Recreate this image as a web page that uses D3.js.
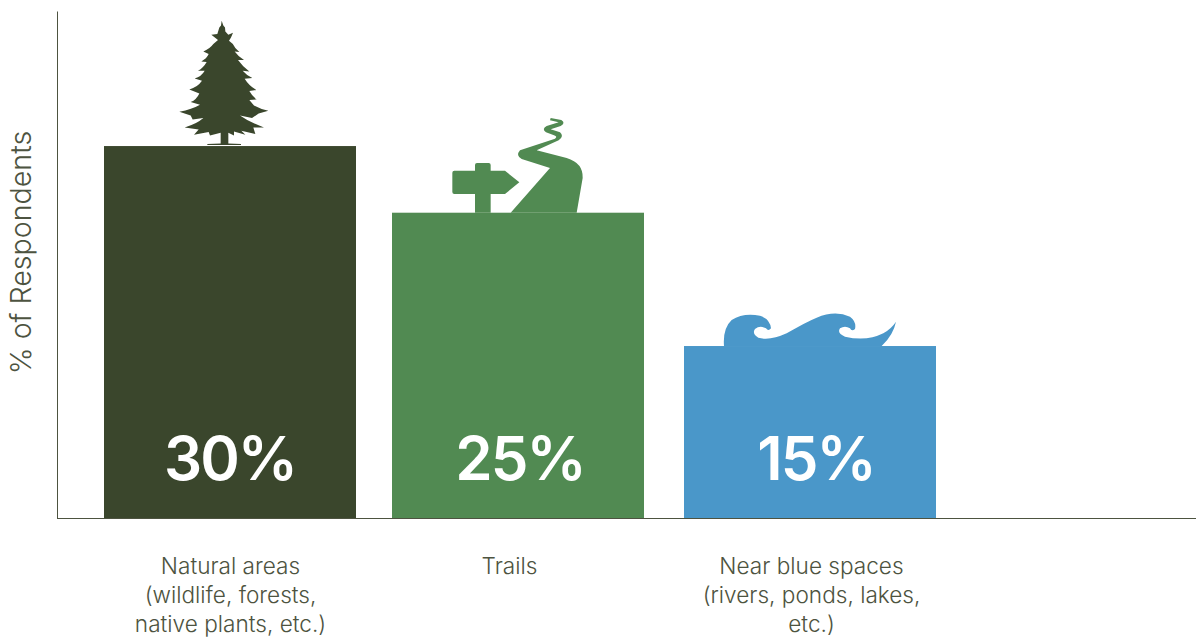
<!DOCTYPE html>
<html>
<head>
<meta charset="utf-8">
<script src="https://cdn.jsdelivr.net/npm/d3@7"></script>
<style>
  html, body { margin: 0; padding: 0; background: #fff; }
  svg { display: block; font-family: Inter, sans-serif; }
</style>
</head>
<body>
<svg id="chart" width="1196" height="637"></svg>
<script>
// Share of respondents by type of green or blue space
const categories = ["Natural areas", "Trails", "Near blue spaces"];
const values = [30, 25, 15];
const valueLabels = ["30%", "25%", "15%"];
const labelLines = [
  ["Natural areas", "(wildlife, forests,", "native plants, etc.)"],
  ["Trails"],
  ["Near blue spaces", "(rivers, ponds, lakes,", "etc.)"]
];
const barColors = ["#3a462c", "#518a52", "#4a97c9"];
const yDomain = [2.1, 40.13];

const svg = d3.select("#chart");
const plotLeft = 57, plotRight = 1196, plotTop = 11, base = 518, barWidth = 252;
const ink = "#4d5340";

const y = d3.scaleLinear().domain(yDomain).range([base, plotTop]);
const barLeft = d3.scaleOrdinal().domain(categories).range([104, 392, 684]);
const labelX = d3.scaleOrdinal().domain(categories).range([230, 509, 811]);
const valueX = d3.scaleOrdinal().domain(categories).range([230, 520, 816]);
const color = d3.scaleOrdinal().domain(categories).range(barColors);

const rows = categories.map((c, i) => ({ c, v: values[i], label: valueLabels[i], lines: labelLines[i] }));

// Bars
svg.append("g").selectAll("rect").data(rows).join("rect")
  .attr("x", d => barLeft(d.c))
  .attr("y", d => y(d.v))
  .attr("width", barWidth)
  .attr("height", d => base - y(d.v))
  .attr("fill", d => color(d.c));

// Icon outlines sit on each bar top; drawn at 3x and scaled down
const icons = [
  { c: "Natural areas", ox: 192, oy: 408, shapes: [
    "M185 32 L190 46 L195 52 L196 64 L205 74 L219 68 L213 82 L207 92 Q220 100 226 114 L238 126 L224 124 Q234 138 252 150 L234 150 Q248 170 268 184 L248 182 Q260 196 277 204 L254 206 Q266 226 289 240 L268 243 Q276 258 290 268 L268 270 L282 286 Q300 296 325 302 L296 310 L276 324 L240 316 Q268 336 312 352 L280 352 L286 372 L244 362 L256 374 L222 364 L222 376 L205 368 L205 400 L243 402 L243 405 L142 405 L142 402 L182 400 L182 368 L150 376 L146 366 L102 374 L116 358 L74 352 Q110 342 130 324 L98 328 L92 316 L58 305 Q96 298 120 284 L92 276 Q110 268 118 250 L88 238 Q112 232 126 212 L104 205 Q124 200 134 182 L114 182 Q130 174 140 156 L124 154 Q140 146 146 132 L130 124 Q148 118 160 102 L174 90 L154 74 L172 72 L178 52 L183 46 Z"
  ]},
  { c: "Trails", ox: 240, oy: 309, shapes: [
    "M105 309 L105 253 L43 253 Q37 253 37 247 L37 189 Q37 183 43 183 L105 183 L105 166 Q105 160 111 160 L146 160 Q152 160 152 166 L152 183 L195 183 L238 218 L195 253 L152 253 L152 309 Z",
    "M212 309 L330 175 L245 148 Q226 138 240 122 L345 87 Q354 81 342 77 L318 68 Q304 58 320 49 L356 38 L330 32 L332 25 L364 31 Q378 40 362 49 L332 59 L360 68 Q374 80 356 92 L290 122 L380 145 Q430 160 428 205 L410 309 Z"
  ]},
  { c: "Near blue spaces", ox: 135, oy: 123, shapes: [
    "M42 123 Q38 70 65 45 Q100 22 150 32 Q180 42 183 70 Q175 80 168 70 Q150 60 135 72 Q125 85 145 98 Q180 108 230 85 Q290 50 320 38 Q375 15 420 35 Q440 50 435 72 Q425 80 420 70 Q405 60 390 70 Q380 85 405 95 Q470 110 520 85 Q545 70 558 50 Q550 90 515 123 Z"
  ]}
];
const iconAnchorX = d3.scaleOrdinal().domain(categories).range([224, 520, 755]);
const iconG = svg.append("g").selectAll("g").data(icons).join("g")
  .attr("transform", d => {
    const v = values[categories.indexOf(d.c)];
    return `translate(${iconAnchorX(d.c)},${y(v)}) scale(${1 / 3}) translate(${-d.ox},${-d.oy})`;
  })
  .attr("fill", d => color(d.c));
iconG.selectAll("path").data(d => d.shapes).join("path").attr("d", d => d);

// Value labels inside the bars
svg.append("g").selectAll("text").data(rows).join("text")
  .attr("x", d => valueX(d.c))
  .attr("y", 480)
  .attr("text-anchor", "middle")
  .attr("fill", "#fff")
  .attr("font-size", 60)
  .attr("font-weight", 600)
  .attr("letter-spacing", -2)
  .text(d => d.label);

// Axes
svg.append("g").attr("transform", `translate(${plotLeft},0)`)
  .call(d3.axisLeft(y).tickValues([]).tickSizeOuter(0))
  .select(".domain").attr("stroke", ink);
svg.append("line")
  .attr("x1", plotLeft).attr("x2", plotRight).attr("y1", base + 0.5).attr("y2", base + 0.5)
  .attr("stroke", ink);

const xAxis = svg.append("g").attr("transform", `translate(0,${base})`)
  .call(d3.axisBottom(labelX).tickSize(0).tickFormat(""));
xAxis.select(".domain").remove();
xAxis.selectAll(".tick").select("text").remove();
xAxis.selectAll(".tick").data(rows).each(function (d) {
  d3.select(this).selectAll("text.line").data(d.lines).join("text")
    .attr("class", "line")
    .attr("text-anchor", "middle")
    .attr("y", (l, i) => 56 + i * 28.8)
    .attr("fill", ink)
    .attr("font-family", "Inter, sans-serif")
    .attr("font-weight", 300)
    .attr("font-size", 22.6)
    .text(l => l);
});

// Y axis title
svg.append("text")
  .attr("transform", "translate(31,252.5) rotate(-90)")
  .attr("text-anchor", "middle")
  .attr("fill", ink)
  .attr("font-weight", 300)
  .attr("font-size", 28.6)
  .text("% of Respondents");
</script>
</body>
</html>
